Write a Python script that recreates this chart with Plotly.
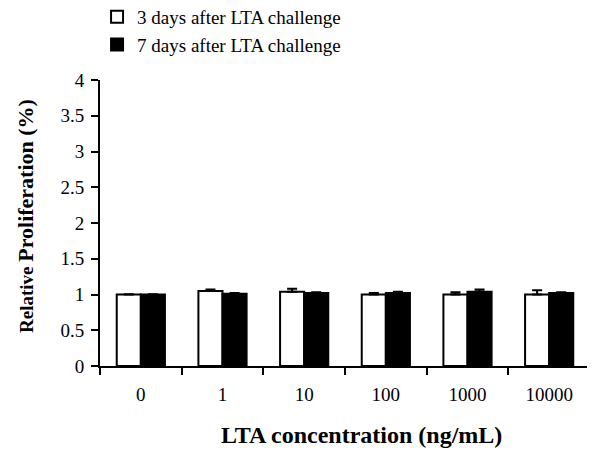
import plotly.graph_objects as go

categories = ["0", "1", "10", "100", "1000", "10000"]
day3_values = [1.00, 1.05, 1.04, 1.00, 1.00, 1.00]
day3_errors = [0.005, 0.02, 0.04, 0.02, 0.03, 0.06]
day7_values = [1.00, 1.01, 1.02, 1.02, 1.04, 1.02]
day7_errors = [0.005, 0.01, 0.01, 0.02, 0.03, 0.01]
y_ticks = [0, 0.5, 1, 1.5, 2, 2.5, 3, 3.5, 4]
y_tick_labels = ["0", "0.5", "1", "1.5", "2", "2.5", "3", "3.5", "4"]

font = "Liberation Serif, Times New Roman, serif"

fig = go.Figure()
fig.add_trace(go.Bar(
    x=categories, y=day3_values, name="3 days after LTA challenge",
    marker=dict(color="white", line=dict(color="black", width=2)),
    error_y=dict(type="data", symmetric=False, array=day3_errors,
                 arrayminus=[0]*len(day3_errors), color="black", thickness=2, width=5),
))
fig.add_trace(go.Bar(
    x=categories, y=day7_values, name="7 days after LTA challenge",
    marker=dict(color="black", line=dict(color="black", width=2)),
    error_y=dict(type="data", symmetric=False, array=day7_errors,
                 arrayminus=[0]*len(day7_errors), color="black", thickness=2, width=5),
))

fig.update_layout(
    width=587, height=444,
    margin=dict(l=92, r=5, t=72, b=86, autoexpand=False),
    paper_bgcolor="white", plot_bgcolor="white",
    barmode="group", bargap=0.41, bargroupgap=0,
    font=dict(family=font, color="black", size=19),
    showlegend=True,
    legend=dict(x=-0.006, y=1.287, xanchor="left", yanchor="top",
                font=dict(family=font, size=19), tracegroupgap=0,
                bgcolor="rgba(0,0,0,0)"),
    xaxis=dict(
        type="category", range=[-0.5, 5.5], automargin=False,
        showline=True, linecolor="black", linewidth=2,
        ticks="outside", tickson="boundaries", ticklen=7, tickwidth=2, tickcolor="black",
        tickfont=dict(family=font, size=19), ticklabelstandoff=10,
        showgrid=False, zeroline=False,
    ),
    yaxis=dict(
        range=[0, 4], tickvals=y_ticks, ticktext=y_tick_labels, automargin=False,
        showline=True, linecolor="black", linewidth=2,
        ticks="outside", ticklen=7, tickwidth=2, tickcolor="black",
        tickfont=dict(family=font, size=19), ticklabelstandoff=3,
        showgrid=False, zeroline=False,
    ),
    annotations=[
        dict(text="<b>LTA concentration (ng/mL)</b>", xref="paper", yref="paper",
             x=0.5, y=0, xshift=16, yshift=-69, xanchor="center", yanchor="middle",
             showarrow=False, font=dict(family=font, size=24)),
        dict(text="<b><span style='font-size:19px'>Relative </span>Proliferation (%)</b>",
             xref="paper", yref="paper", x=0, y=0.5, xshift=-75, yshift=7, textangle=-90,
             xanchor="center", yanchor="middle", showarrow=False,
             font=dict(family=font, size=22)),
    ],
)

fig.write_html("out.html")
